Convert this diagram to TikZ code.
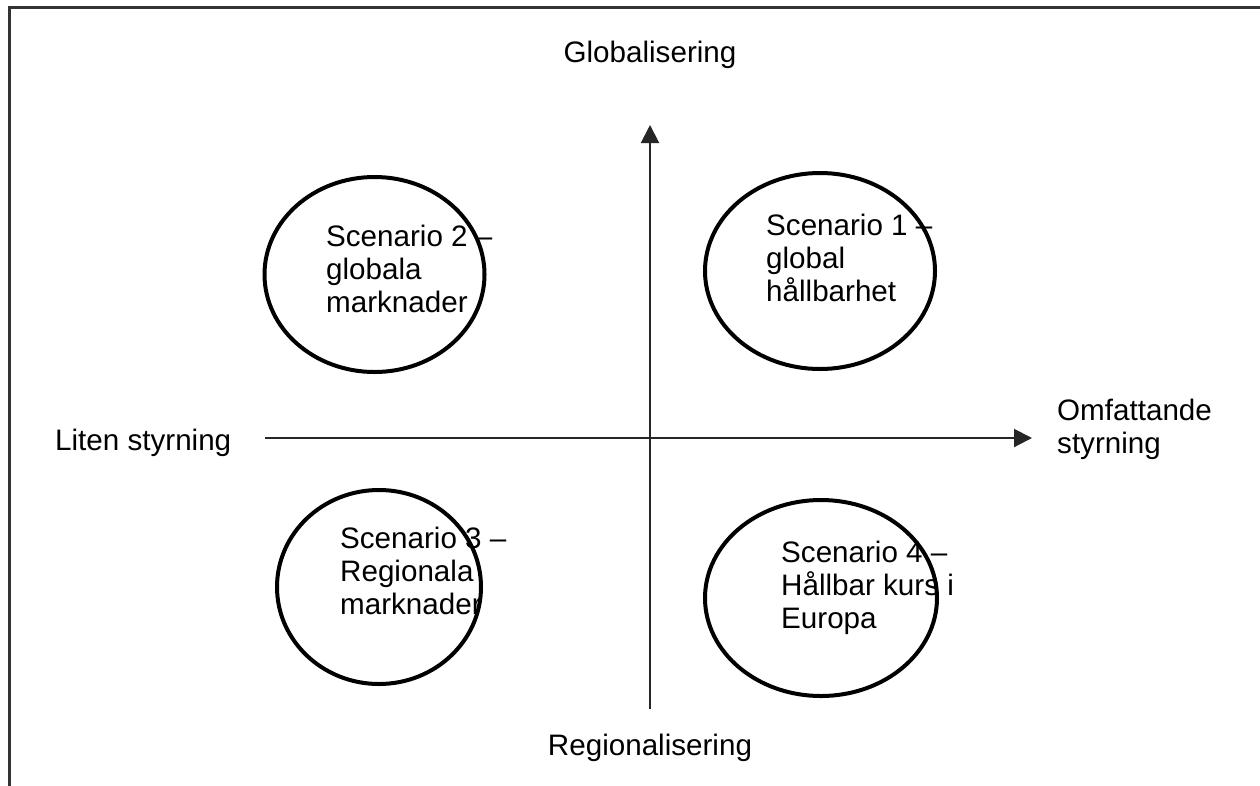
\documentclass[tikz,border=0pt]{standalone}
\usepackage{fontspec}
\setmainfont{Liberation Sans}
\usetikzlibrary{arrows.meta,shapes.geometric}
\begin{document}
\begin{tikzpicture}[x=1pt,y=-1pt,
  scen/.style={ellipse, draw=black, line width=4pt, inner sep=0pt},
  lbl/.style={font=\fontsize{29.6}{33}\selectfont, align=left, inner sep=0pt, text=black},
  axis/.style={draw=black!85, line width=2pt, -{Triangle[length=18pt,width=18pt]}},
  frame/.style={draw=black!80, line width=3pt}
]
\useasboundingbox (0,0) rectangle (1260,785);
\fill[white] (0,0) rectangle (1260,785);
% frame
\coordinate (fb) at (9,786);
\coordinate (fc) at (9,7);
\coordinate (fr) at (1261,7);
\draw[frame] (fb) -- (fc) -- (fr);
% axes
\coordinate (vb) at (650,709);
\coordinate (vt) at (650,125);
\coordinate (hl) at (265,438);
\coordinate (hr) at (1032,438);
\draw[axis] (vb) -- (vt);
\draw[axis] (hl) -- (hr);
% ellipses
\node[scen, minimum width=220pt, minimum height=195pt] (e2) at (374.5,274.5) {};
\node[scen, minimum width=230pt, minimum height=196pt] (e1) at (820,271) {};
\node[scen, minimum width=204pt, minimum height=194pt] (e3) at (379,587) {};
\node[scen, minimum width=232pt, minimum height=196pt] (e4) at (821,598) {};
% texts
\node[lbl, anchor=north west] (t2) at (326,225) {Scenario 2 --\\globala\\marknader};
\node[lbl, anchor=north west] (t1) at (766,214) {Scenario 1 --\\global\\hållbarhet};
\node[lbl, anchor=north west] (t3) at (340,527) {Scenario 3 --\\Regionala\\marknader};
\node[lbl, anchor=north west] (t4) at (781,541) {Scenario 4 --\\Hållbar kurs i\\Europa};
% axis labels
\node[lbl, anchor=base] (glob) at (650,62) {Globalisering};
\node[lbl, anchor=base] (reg) at (650,755) {Regionalisering};
\node[lbl, anchor=base west] (lit) at (55,450) {Liten styrning};
\node[lbl, anchor=north west] (omf) at (1057,399) {Omfattande\\styrning};
\end{tikzpicture}
\end{document}
